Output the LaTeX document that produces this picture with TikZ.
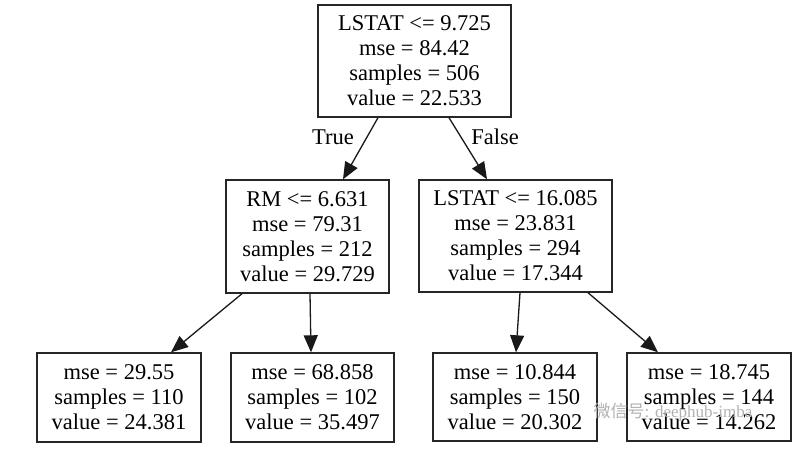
\documentclass[tikz,border=0pt]{standalone}
\usepackage{fontspec}
\setmainfont{Liberation Serif}
\newfontfamily\cjkfont{Noto Sans CJK SC}
\usetikzlibrary{arrows.meta}
\tikzset{
  treebox/.style={draw=black!85, line width=1.4pt, align=center, inner sep=0pt,
    font=\fontsize{22.5}{25}\selectfont},
  edgearrow/.style={draw=black!90, line width=1.3pt, -{Triangle[length=17pt,width=14pt]}},
  edgelabel/.style={font=\fontsize{22.5}{25}\selectfont, inner sep=0pt},
}
\begin{document}
\begin{tikzpicture}[x=1pt,y=-1pt]
\useasboundingbox[fill=white] (0,0) rectangle (808,461);
\node[treebox, minimum width=193pt, minimum height=112pt] (root) at (414.5,61)
  {LSTAT <= 9.725\\mse = 84.42\\samples = 506\\value = 22.533};
\node[treebox, minimum width=163pt, minimum height=113pt] (lm) at (307.5,236.5)
  {RM <= 6.631\\mse = 79.31\\samples = 212\\value = 29.729};
\node[treebox, minimum width=193pt, minimum height=112pt] (rm) at (515.5,236)
  {LSTAT <= 16.085\\mse = 23.831\\samples = 294\\value = 17.344};
\node[treebox, minimum width=164pt, minimum height=89pt] (ll) at (119,397.5)
  {mse = 29.55\\samples = 110\\value = 24.381};
\node[treebox, minimum width=163pt, minimum height=89pt] (lr) at (312.5,397.5)
  {mse = 68.858\\samples = 102\\value = 35.497};
\node[treebox, minimum width=164pt, minimum height=88pt] (rl) at (515,397)
  {mse = 10.844\\samples = 150\\value = 20.302};
\node[treebox, minimum width=164pt, minimum height=88pt] (rr) at (709,397)
  {mse = 18.745\\samples = 144\\value = 14.262};

\draw[edgearrow] ([xshift=-36.5pt]root.south) -- ([xshift=35.5pt]lm.north);
\draw[edgearrow] ([xshift=34.5pt]root.south) -- ([xshift=-28.5pt]rm.north);
\draw[edgearrow] ([xshift=-65.5pt]lm.south) -- ([xshift=52pt]ll.north);
\draw[edgearrow] ([xshift=2.5pt]lm.south) -- ([xshift=-1.5pt]lr.north);
\draw[edgearrow] ([xshift=4.5pt]rm.south) -- ([xshift=1pt]rl.north);
\draw[edgearrow] ([xshift=72.5pt]rm.south) -- ([xshift=-51pt]rr.north);

\node[edgelabel] (true) at (333,137) {True};
\node[edgelabel] (false) at (495,137) {False};

\node[text=black!30, font=\fontsize{17}{20}\selectfont, inner sep=0pt] (wm) at (673,412)
  {{\cjkfont 微信号}: deephub-imba};
\end{tikzpicture}
\end{document}
